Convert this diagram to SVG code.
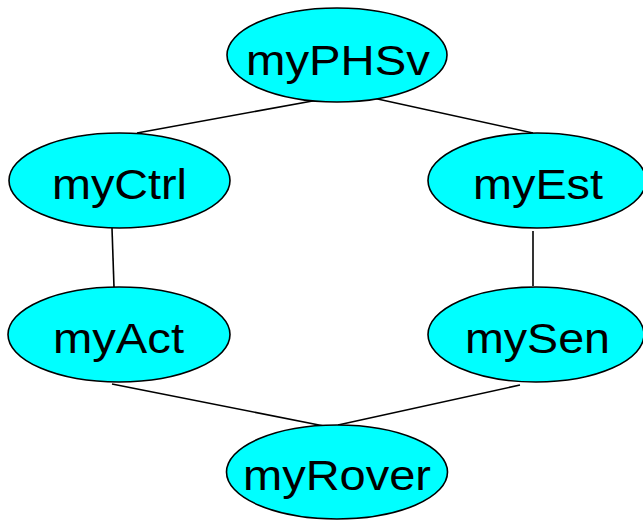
<svg xmlns="http://www.w3.org/2000/svg" width="643" height="521" viewBox="0 0 643 521">
  <style>
    .node ellipse { fill: #00FFFF; stroke: #000; stroke-width: 1.6; }
    .node text { font-family: "Liberation Sans", Arial, sans-serif; font-size: 42px; fill: #000; text-anchor: middle; }
    #edges line { stroke: #000; stroke-width: 1.6; }
  </style>
  <rect width="643" height="521" fill="#fff"/>
  <g id="edges">
    <line x1="318" y1="100" x2="137" y2="133"/>
    <line x1="373" y1="98" x2="533" y2="133"/>
    <line x1="112" y1="228" x2="114" y2="287"/>
    <line x1="533" y1="231" x2="533" y2="286"/>
    <line x1="112" y1="384" x2="324" y2="426"/>
    <line x1="520" y1="385" x2="338" y2="425"/>
  </g>
  <g id="myPHSv" class="node">
    <ellipse cx="337" cy="55" rx="110" ry="47"/>
    <text x="338" y="75" textLength="184" lengthAdjust="spacingAndGlyphs">myPHSv</text>
  </g>
  <g id="myCtrl" class="node">
    <ellipse cx="119.5" cy="180.5" rx="110.5" ry="47.5"/>
    <text x="119.5" y="199" textLength="135" lengthAdjust="spacingAndGlyphs">myCtrl</text>
  </g>
  <g id="myEst" class="node">
    <ellipse cx="537" cy="180.5" rx="109" ry="47.5"/>
    <text x="538" y="199" textLength="130" lengthAdjust="spacingAndGlyphs">myEst</text>
  </g>
  <g id="myAct" class="node">
    <ellipse cx="119" cy="334.5" rx="111" ry="47.5"/>
    <text x="118.5" y="353" textLength="131" lengthAdjust="spacingAndGlyphs">myAct</text>
  </g>
  <g id="mySen" class="node">
    <ellipse cx="536" cy="334.5" rx="108" ry="47.5"/>
    <text x="537.5" y="353" textLength="145" lengthAdjust="spacingAndGlyphs">mySen</text>
  </g>
  <g id="myRover" class="node">
    <ellipse cx="337" cy="472" rx="110.5" ry="47"/>
    <text x="337" y="490" textLength="188" lengthAdjust="spacingAndGlyphs">myRover</text>
  </g>
</svg>
